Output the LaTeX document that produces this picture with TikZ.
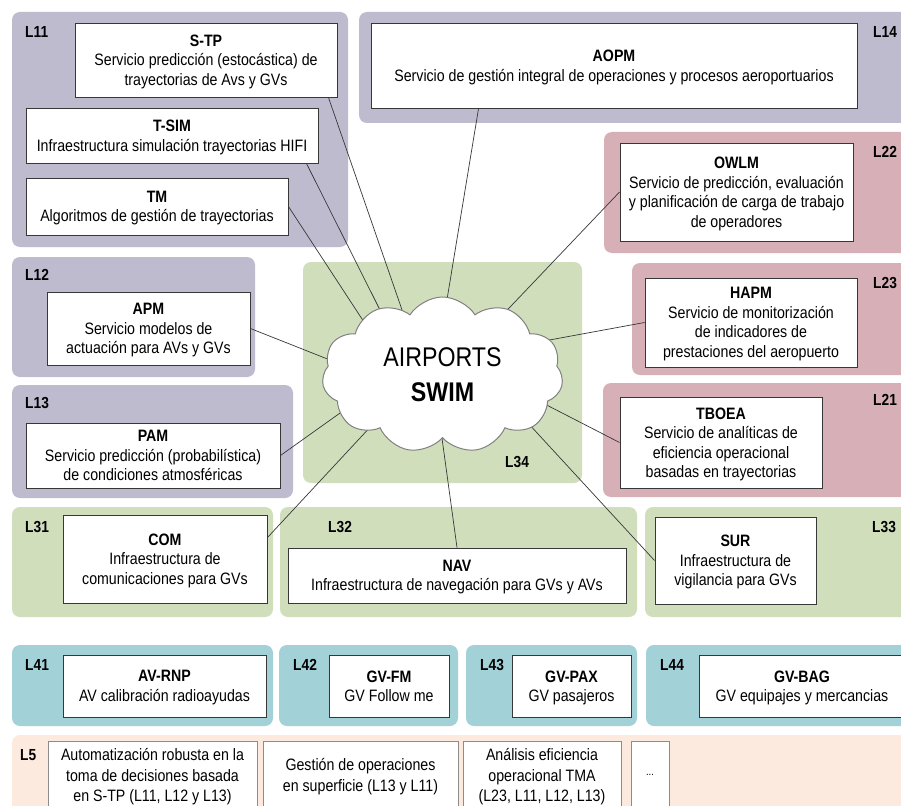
\documentclass[tikz,border=0pt]{standalone}
\usepackage{fontspec}
\setmainfont{Liberation Sans}[FakeStretch=0.86]
\usetikzlibrary{shapes.symbols,calc}
\definecolor{lav}{RGB}{190,187,207}
\definecolor{pinkc}{RGB}{214,175,183}
\definecolor{greenc}{RGB}{209,222,188}
\definecolor{tealc}{RGB}{163,209,216}
\definecolor{peachc}{RGB}{252,234,222}
\definecolor{edge}{RGB}{55,55,55}
\pgfdeclarelayer{bg}
\pgfdeclarelayer{mid}
\pgfsetlayers{bg,mid,main}
% box from corner (x1,y1) to (x2,y2)
\newcommand\bx[6]{\node[#1, minimum width={#4-#2}, minimum height={#5-#3}] (#6) at ({(#2+#4)/2},{(#3+#5)/2})}
\begin{document}
\begin{tikzpicture}[x=1pt,y=-1pt,
  grp/.style={rounded corners=8pt},
  box/.style={draw=edge, line width=0.9pt, fill=white, inner sep=0pt, align=center,
    font=\fontsize{16.5}{19.5}\selectfont, text depth=-4.5pt},
  lbox/.style={draw=black!45, line width=0.8pt, fill=white, inner sep=0pt, align=center,
    font=\fontsize{16.5}{20.5}\selectfont, text depth=-2pt},
  dbox/.style={draw=black!45, line width=0.8pt, fill=white, inner sep=0pt, align=center,
    font=\fontsize{11}{11}\selectfont},
  lab/.style={anchor=west, inner sep=0pt, font=\fontsize{16}{16}\selectfont\bfseries},
  conn/.style={draw=edge, line width=0.7pt}]
\useasboundingbox (0,0) rectangle (901,805);

\begin{pgfonlayer}{bg}
\fill[white] (0,0) rectangle (901,805);
\fill[lav,grp] (12,12) rectangle (348,247);
\fill[lav,grp] (359,12) rectangle (915,123);
\fill[pinkc,grp] (604,132) rectangle (915,253);
\fill[lav,grp] (12,257) rectangle (255,377);
\fill[lav,grp] (12,385) rectangle (293,498);
\fill[greenc,grp] (303,262) rectangle (582,483);
\fill[pinkc,grp] (632,263) rectangle (915,375);
\fill[pinkc,grp] (603,383) rectangle (915,497);
\fill[greenc,grp] (12,507) rectangle (273,617);
\fill[greenc,grp] (280,507) rectangle (637,617);
\fill[greenc,grp] (645,507) rectangle (915,617);
\fill[tealc,grp] (12,645) rectangle (273,726);
\fill[tealc,grp] (279,645) rectangle (458,726);
\fill[tealc,grp] (466,645) rectangle (637,726);
\fill[tealc,grp] (646,645) rectangle (915,726);
\fill[peachc,grp] (12,735) rectangle (915,830);
\end{pgfonlayer}

% group labels
\node[lab] (l11) at (25,32) {L11};
\node[lab] (l14) at (873,32) {L14};
\node[lab] (l22) at (873,152) {L22};
\node[lab] (l12) at (25,275) {L12};
\node[lab] (l13) at (25,403) {L13};
\node[lab] (l23) at (873,283) {L23};
\node[lab] (l21) at (873,400) {L21};
\node[lab] (l34) at (505,462) {L34};
\node[lab] (l31) at (25,527) {L31};
\node[lab] (l32) at (328,527) {L32};
\node[lab] (l33) at (872,527) {L33};
\node[lab] (l41) at (25,665) {L41};
\node[lab] (l42) at (293,665) {L42};
\node[lab] (l43) at (480,665) {L43};
\node[lab] (l44) at (660,665) {L44};
\node[lab] (l5) at (20,755) {L5};

% boxes
\bx{box}{75}{23}{337}{97}{stp} {\textbf{S-TP}\\Servicio predicción (estocástica) de\\trayectorias de Avs y GVs};
\bx{box}{26}{108}{318}{163}{tsim} {\textbf{T-SIM}\\Infraestructura simulación trayectorias HIFI};
\bx{box}{26}{178}{288}{235}{tm} {\textbf{TM}\\Algoritmos de gestión de trayectorias};
\bx{box}{371}{23}{857}{108}{aopm} {\textbf{AOPM}\\Servicio de gestión integral de operaciones y procesos aeroportuarios};
\bx{box}{620}{143}{853}{241}{owlm} {\textbf{OWLM}\\Servicio de predicción, evaluación\\y planificación de carga de trabajo\\de operadores};
\bx{box}{47}{292}{250}{365}{apm} {\textbf{APM}\\Servicio modelos de\\actuación para AVs y GVs};
\bx{box}{26}{423}{280}{488}{pam} {\textbf{PAM}\\Servicio predicción (probabilística)\\de condiciones atmosféricas};
\bx{box}{645}{278}{857}{367}{hapm} {\textbf{HAPM}\\Servicio de monitorización\\de indicadores de\\prestaciones del aeropuerto};
\bx{box}{620}{397}{822}{488}{tboea} {\textbf{TBOEA}\\Servicio de analíticas de\\eficiencia operacional\\basadas en trayectorias};
\bx{box}{63}{515}{267}{603}{com} {\textbf{COM}\\Infraestructura de\\comunicaciones para GVs};
\bx{box}{288}{548}{626}{603}{nav} {\textbf{NAV}\\Infraestructura de navegación para GVs y AVs};
\bx{box}{655}{517}{816}{604}{sur} {\textbf{SUR}\\Infraestructura de\\vigilancia para GVs};
\bx{box}{63}{655}{266}{717}{avrnp} {\textbf{AV-RNP}\\AV calibración radioayudas};
\bx{box}{329}{655}{449}{717}{gvfm} {\textbf{GV-FM}\\GV Follow me};
\bx{box}{512}{655}{631}{717}{gvpax} {\textbf{GV-PAX}\\GV pasajeros};
\bx{box}{699}{655}{905}{717}{gvbag} {\textbf{GV-BAG}\\GV equipajes y mercancias};
\bx{lbox}{48}{741}{257}{809}{ua} {Automatización robusta en la\\toma de decisiones basada\\en S-TP (L11, L12 y L13)};
\bx{lbox}{263}{741}{458}{809}{ub} {Gestión de operaciones\\en superficie (L13 y L11)};
\bx{lbox}{463}{741}{621}{809}{uc} {Análisis eficiencia\\operacional TMA\\(L23, L11, L12, L13)};
\bx{dbox}{631}{741}{669}{809}{ud} {...};

% cloud
\node[cloud, draw=black!50, line width=1pt, fill=white, cloud puffs=11, cloud puff arc=115,
  aspect=1.55, minimum width=241, minimum height=156, inner sep=0pt, align=center,
  font=\fontsize{27}{35}\selectfont] (swim) at (442.5,375) {AIRPORTS\\\textbf{SWIM}};

% connector end points inside the cloud
\coordinate (e1) at (408.6,328.9);
\coordinate (e2) at (389,327.9);
\coordinate (e3) at (369,329.7);
\coordinate (e4) at (441.7,331.7);
\coordinate (e5) at (506,311.3);
\coordinate (e6) at (542.3,341.3);
\coordinate (e7) at (340.6,364.2);
\coordinate (e8) at (346.4,408.5);
\coordinate (e9) at (525.2,394);
\coordinate (e10) at (373.6,423.4);
\coordinate (e11) at (441.3,433.2);
\coordinate (e12) at (514.4,408.3);

\begin{pgfonlayer}{mid}
\draw[conn] ($(stp.south east)+(-9,0)$) -- (e1);
\draw[conn] ($(tsim.south east)+(-12,0)$) -- (e2);
\draw[conn] (tm.east) -- (e3);
\draw[conn] ($(aopm.south west)+(108,0)$) -- (e4);
\draw[conn] (owlm.west) -- (e5);
\draw[conn] (hapm.west) -- (e6);
\draw[conn] (apm.east) -- (e7);
\draw[conn] (pam.east) -- (e8);
\draw[conn] (tboea.west) -- (e9);
\draw[conn] ($(com.north east)+(0,23)$) -- (e10);
\draw[conn] (nav.north) -- (e11);
\draw[conn] (sur.west) -- (e12);
\end{pgfonlayer}
\end{tikzpicture}
\end{document}
